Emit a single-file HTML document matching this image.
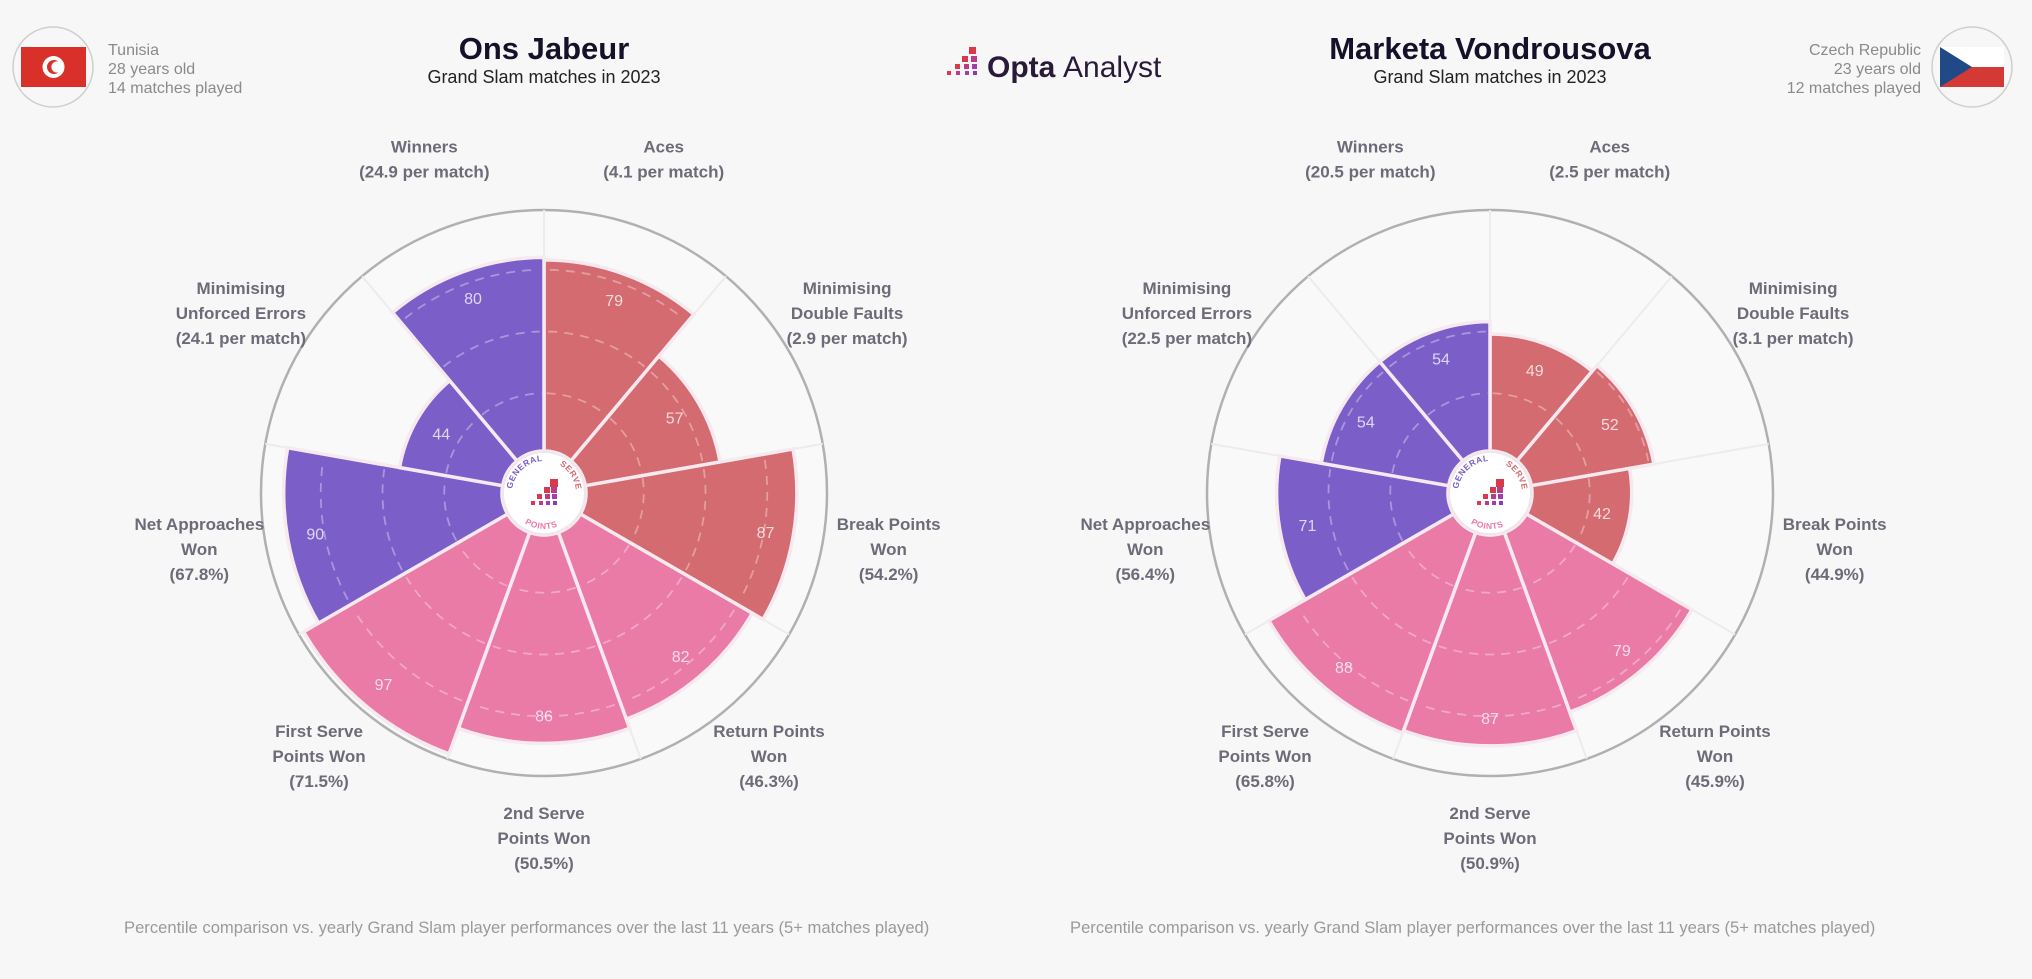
<!DOCTYPE html>
<html><head><meta charset="utf-8">
<style>
html,body{margin:0;padding:0;background:#f7f7f7;}
body{width:2032px;height:974px;overflow:hidden;font-family:"Liberation Sans",sans-serif;}
svg text{font-family:"Liberation Sans",sans-serif;}
</style></head>
<body>
<svg id="root" width="2032" height="974" viewBox="0 0 2032 974">
  <defs><clipPath id="leftClip"><rect x="0" y="880" width="946" height="80"/></clipPath></defs>
  <rect width="2032" height="974" fill="#f7f7f7"/>
  <!-- Left header -->
  <g>
    <circle cx="53" cy="67" r="40" fill="#f7f7f7" stroke="#cfcfcf" stroke-width="1.5"/>
    <rect x="21" y="47" width="65" height="40" fill="#d9302a"/>
    <circle cx="53.5" cy="67" r="11" fill="#fff"/>
    <circle cx="54" cy="67" r="7" fill="#d9302a"/>
    <circle cx="57" cy="67" r="5.6" fill="#fff"/>
    <text x="108" y="55" font-size="16" fill="#8a8a8a">Tunisia</text>
    <text x="108" y="74" font-size="16" fill="#8a8a8a">28 years old</text>
    <text x="108" y="93" font-size="16" fill="#8a8a8a">14 matches played</text>
  </g>
  <text x="544" y="59" text-anchor="middle" font-size="31" font-weight="bold" fill="#15112a">Ons Jabeur</text>
  <text x="544" y="83" text-anchor="middle" font-size="18" fill="#222">Grand Slam matches in 2023</text>

  <!-- Right header -->
  <g>
    <circle cx="1972" cy="67" r="40" fill="#f7f7f7" stroke="#cfcfcf" stroke-width="1.5"/>
    <rect x="1940" y="47" width="64" height="20" fill="#ffffff"/>
    <rect x="1940" y="67" width="64" height="20" fill="#d33a36"/>
    <polygon points="1940,47 1972,67 1940,87" fill="#1f4a86"/>
    <text x="1921" y="55" text-anchor="end" font-size="16" fill="#8a8a8a">Czech Republic</text>
    <text x="1921" y="74" text-anchor="end" font-size="16" fill="#8a8a8a">23 years old</text>
    <text x="1921" y="93" text-anchor="end" font-size="16" fill="#8a8a8a">12 matches played</text>
  </g>
  <text x="1490" y="59" text-anchor="middle" font-size="31" font-weight="bold" fill="#15112a">Marketa Vondrousova</text>
  <text x="1490" y="83" text-anchor="middle" font-size="18" fill="#222">Grand Slam matches in 2023</text>

  <!-- Logo -->
  <g>
    <rect x="969" y="47" width="7" height="7" fill="#d8394d"/>
    <rect x="962" y="56" width="6" height="6" fill="#d8394d"/><rect x="971" y="56" width="6" height="6" fill="#c03a8a"/>
    <rect x="955" y="64" width="5" height="5" fill="#d8394d"/><rect x="964" y="64" width="5" height="5" fill="#c03a8a"/><rect x="972" y="64" width="5" height="5" fill="#a83ab0"/>
    <rect x="947" y="71" width="4" height="4" fill="#d8394d"/><rect x="956" y="71" width="4" height="4" fill="#c03a8a"/><rect x="965" y="71" width="4" height="4" fill="#a83ab0"/><rect x="973" y="71" width="4" height="4" fill="#8a3ac0"/>
    <text x="987" y="77" font-size="30" font-weight="bold" fill="#2a1a3a">Opta</text>
    <text x="1063" y="77" font-size="30" fill="#2a1a3a">Analyst</text>
  </g>

  <text x="124" y="933" font-size="16.6" fill="#9a9a9a" clip-path="url(#leftClip)">Percentile comparison vs. yearly Grand Slam player performances over the last 11 years (5+ matches played)</text>
  <text x="1070" y="933" font-size="16.6" fill="#9a9a9a">Percentile comparison vs. yearly Grand Slam player performances over the last 11 years (5+ matches played)</text>

  <g id="leftChart"></g>
  <g id="rightChart"></g>
</svg>
<script>
const categories = [
  ["Aces"],
  ["Minimising","Double Faults"],
  ["Break Points","Won"],
  ["Return Points","Won"],
  ["2nd Serve","Points Won"],
  ["First Serve","Points Won"],
  ["Net Approaches","Won"],
  ["Minimising","Unforced Errors"],
  ["Winners"]
];
const groups = ["serve","serve","serve","points","points","points","general","general","general"];
const jabeurValues = [79,57,87,82,86,97,90,44,80];
const jabeurRaw = ["(4.1 per match)","(2.9 per match)","(54.2%)","(46.3%)","(50.5%)","(71.5%)","(67.8%)","(24.1 per match)","(24.9 per match)"];
const vondrousovaValues = [49,52,42,79,87,88,71,54,54];
const vondrousovaRaw = ["(2.5 per match)","(3.1 per match)","(44.9%)","(45.9%)","(50.9%)","(65.8%)","(56.4%)","(22.5 per match)","(20.5 per match)"];
const gridTicks = [25,50,75];

const NS="http://www.w3.org/2000/svg";
const colors={serve:"#d46b70",points:"#ea7aa6",general:"#7c5ec9"};
function mk(tag,attrs,parent){const e=document.createElementNS(NS,tag);for(const k in attrs)e.setAttribute(k,attrs[k]);parent.appendChild(e);return e;}
function rScale(v){return 38+2.47*v;}
function angScale(i){return i*40;}
function pt(cx,cy,r,deg){const a=deg*Math.PI/180;return [cx+r*Math.sin(a),cy-r*Math.cos(a)];}
function wedgePath(cx,cy,r0,r1,a0,a1){
  const p1=pt(cx,cy,r0,a0),p2=pt(cx,cy,r1,a0),p3=pt(cx,cy,r1,a1),p4=pt(cx,cy,r0,a1);
  return `M${p1[0]},${p1[1]}L${p2[0]},${p2[1]}A${r1},${r1} 0 0 1 ${p3[0]},${p3[1]}L${p4[0]},${p4[1]}A${r0},${r0} 0 0 0 ${p1[0]},${p1[1]}Z`;
}
function drawChart(g,cx,cy,values,raw){
  const outer=283;
  const oc=mk("circle",{cx:cx,cy:cy,r:outer,fill:"#f9f9f9",stroke:"#b0b0b0","stroke-width":2.5},g);
  
  
  for(let i=0;i<categories.length;i++){
    const a=angScale(i);
    const p0=pt(cx,cy,42,a),p1=pt(cx,cy,outer,a);
    const ln=mk("line",{x1:p0[0],y1:p0[1],x2:p1[0],y2:p1[1],stroke:"#ececec","stroke-width":2},g);
    
    
  }
  for(let i=0;i<values.length;i++){
    const a0=angScale(i),a1=angScale(i+1);
    const r=rScale(values[i]);
    const w=mk("path",{d:wedgePath(cx,cy,42,r,a0,a1),fill:colors[groups[i]],stroke:"#f6e9ef","stroke-width":3.5,"stroke-linejoin":"miter"},g);
    
    
    for(const t of gridTicks){
      const gr=rScale(t);
      if(gr<r-4){
        const p=pt(cx,cy,gr,a0+1.5),q=pt(cx,cy,gr,a1-1.5);
        const arc=mk("path",{d:`M${p[0]},${p[1]}A${gr},${gr} 0 0 1 ${q[0]},${q[1]}`,fill:"none",stroke:"rgba(255,255,255,0.35)","stroke-width":1.8,"stroke-dasharray":"9 7"},g);
        
        
      }
    }
    const lp=pt(cx,cy,r-28,(a0+a1)/2);
    const vt=mk("text",{x:lp[0],y:lp[1]+6,"text-anchor":"middle","font-size":16,fill:"rgba(255,255,255,0.75)"},g);
    vt.textContent=values[i];
    
    
    const lines=categories[i].concat([raw[i]]);
    const cp=pt(cx,cy,350,(a0+a1)/2);
    const lh=25;
    const y0=cp[1]-(lines.length-1)*lh/2+1;
    const ct=mk("text",{"text-anchor":"middle","font-size":17,"font-weight":"bold",fill:"#6c6b78"},g);
    
    
    lines.forEach((s,k)=>{const ts=mk("tspan",{x:cp[0],y:y0+k*lh},ct);ts.textContent=s;});
  }
  const hub=mk("circle",{cx:cx,cy:cy,r:41,fill:"#ffffff",stroke:"#f0e6ec","stroke-width":2},g);
  
  
  const id='c'+cx;
  mk("path",{id:id+'t',d:`M${cx-32},${cy}A32,32 0 0 1 ${cx+32},${cy}`,fill:"none"},g);
  mk("path",{id:id+'b',d:`M${cx-36},${cy}A36,36 0 0 0 ${cx+36},${cy}`,fill:"none"},g);
  const t1=mk("text",{"font-size":8.5,"font-weight":"bold",fill:"#7c5ec9","letter-spacing":"0.5"},g);
  const tp1=mk("textPath",{href:'#'+id+'t',startOffset:"4%"},t1);tp1.textContent="GENERAL";
  const t2=mk("text",{"font-size":8.5,"font-weight":"bold",fill:"#d46b70","letter-spacing":"0.5"},g);
  const tp2=mk("textPath",{href:'#'+id+'t',startOffset:"66%"},t2);tp2.textContent="SERVE";
  const t3=mk("text",{"font-size":8.5,"font-weight":"bold",fill:"#ea7aa6","letter-spacing":"0.5"},g);
  const tp3=mk("textPath",{href:'#'+id+'b',startOffset:"32%"},t3);tp3.textContent="POINTS";
  [[8,-12,8,"#d8394d"],[2,-4,6,"#d8394d"],[9,-4,6,"#c03a8a"],[-5,3,5,"#d8394d"],[3,3,5,"#c03a8a"],[10,3,5,"#a83ab0"],[-11,10,4,"#d8394d"],[-3,10,4,"#c03a8a"],[4,10,4,"#a83ab0"],[11,10,4,"#8a3ac0"]]
    .forEach(s=>mk("rect",{x:cx+s[0]-2,y:cy+s[1]-2,width:s[2],height:s[2],fill:s[3]},g));
}
drawChart(document.getElementById('leftChart'),544,493,jabeurValues,jabeurRaw);
drawChart(document.getElementById('rightChart'),1490,493,vondrousovaValues,vondrousovaRaw);
</script>
</body></html>
